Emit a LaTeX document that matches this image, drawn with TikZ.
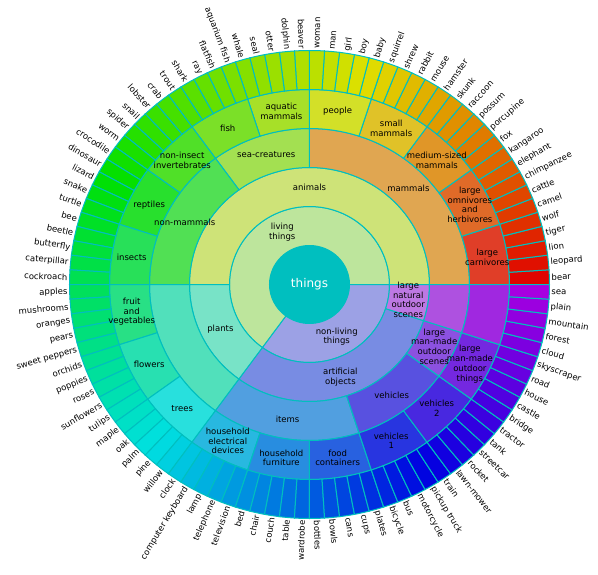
\PassOptionsToPackage{rgb}{xcolor}
\documentclass[tikz,border=0pt]{standalone}
\usepackage{fontspec}
\setmainfont{DejaVu Sans}
\definecolor{edgec}{RGB}{0,191,191}
\newcommand\segfill[4]{%
  \pgfmathsetmacro\segA{(#1-1)*3.6}%
  \pgfmathsetmacro\segB{#2*3.6}%
  \pgfmathsetmacro\segRi{40*(#3-1)}%
  \pgfmathsetmacro\segRo{40*#3}%
  \pgfmathsetmacro\segH{((#1-1)+#2)/2*2.86/360}%
  \ifcase#3\or\or\def\segS{0.32}\def\segV{0.9}\or\def\segS{0.47}\def\segV{0.89}\or\def\segS{0.64}\def\segV{0.88}\or\def\segS{0.82}\def\segV{0.88}\or\def\segS{1}\def\segV{0.88}\fi
  \definecolor{segtmp}{hsb}{\segH,\segS,\segV}%
  \colorlet{segc}[rgb]{segtmp}%
  \filldraw[fill=segc,draw=edgec,line width=1pt] (\segA:\segRi) arc[start angle=\segA,end angle=\segB,radius=\segRi] -- (\segB:\segRo) arc[start angle=\segB,end angle=\segA,radius=\segRo] -- cycle;%
}
\newcommand\seglabel[4]{%
  \pgfmathsetmacro\segM{((#1-1)+#2)/2*3.6}%
  \pgfmathsetmacro\segRm{40*#3-20}%
  \node[lab] (n#1x#2x#3) at (\segM:\segRm) {#4};%
}
\newcommand\allsegs{%
  \seg{1}{65}{2}{living\\things}%
  \seg{66}{100}{2}{non-living\\things}%
  \seg{1}{50}{3}{animals}%
  \seg{51}{65}{3}{plants}%
  \seg{66}{95}{3}{artificial\\objects}%
  \seg{96}{100}{3}{large\\natural\\outdoor\\scenes}%
  \seg{1}{25}{4}{mammals}%
  \seg{26}{35}{4}{sea-creatures}%
  \seg{36}{50}{4}{non-mammals}%
  \seg{51}{65}{4}{}%
  \seg{66}{80}{4}{items}%
  \seg{81}{90}{4}{vehicles}%
  \seg{91}{95}{4}{large\\man-made\\outdoor\\scenes}%
  \seg{96}{100}{4}{}%
  \seg{1}{5}{5}{large\\carnivores}%
  \seg{6}{10}{5}{large\\omnivores\\and\\herbivores}%
  \seg{11}{15}{5}{medium-sized\\mammals}%
  \seg{16}{20}{5}{small\\mammals}%
  \seg{21}{25}{5}{people}%
  \seg{26}{30}{5}{aquatic\\mammals}%
  \seg{31}{35}{5}{fish}%
  \seg{36}{40}{5}{non-insect\\invertebrates}%
  \seg{41}{45}{5}{reptiles}%
  \seg{46}{50}{5}{insects}%
  \seg{51}{55}{5}{fruit\\and\\vegetables}%
  \seg{56}{60}{5}{flowers}%
  \seg{61}{65}{5}{trees}%
  \seg{66}{70}{5}{household\\electrical\\devices}%
  \seg{71}{75}{5}{household\\furniture}%
  \seg{76}{80}{5}{food\\containers}%
  \seg{81}{85}{5}{vehicles\\1}%
  \seg{86}{90}{5}{vehicles\\2}%
  \seg{91}{95}{5}{large\\man-made\\outdoor\\things}%
  \seg{96}{100}{5}{}%
}
\begin{document}
\begin{tikzpicture}[x=1pt,y=1pt,
  lab/.style={font=\fontsize{8.5}{9.7}\selectfont,align=center,inner sep=0pt,text=black},
  leaf/.style={font=\fontsize{8.5}{9.7}\selectfont,inner sep=0pt,text=black}]
\useasboundingbox (-309.5,-289.5) rectangle (288.5,284.5);
\begin{scope}[yscale=0.975]
  \let\seg\segfill
  \allsegs
  \foreach \nm [count=\i] in {bear,leopard,lion,tiger,wolf,camel,cattle,chimpanzee,elephant,kangaroo,fox,porcupine,possum,raccoon,skunk,hamster,mouse,rabbit,shrew,squirrel,baby,boy,girl,man,woman,beaver,dolphin,otter,seal,whale,aquarium fish,flatfish,ray,shark,trout,crab,lobster,snail,spider,worm,crocodile,dinosaur,lizard,snake,turtle,bee,beetle,butterfly,caterpillar,cockroach,apples,mushrooms,oranges,pears,sweet peppers,orchids,poppies,roses,sunflowers,tulips,maple,oak,palm,pine,willow,clock,computer keyboard,lamp,telephone,television,bed,chair,couch,table,wardrobe,bottles,bowls,cans,cups,plates,bicycle,bus,motorcycle,pickup truck,train,lawn-mower,rocket,streetcar,tank,tractor,bridge,castle,house,road,skyscraper,cloud,forest,mountain,plain,sea}{
    \segfill{\i}{\i}{6}{}
    \pgfmathsetmacro\lth{(\i-0.5)*3.6}
    \pgfmathtruncatemacro\lleft{(\lth>90)*(\lth<270)}
    \ifnum\lleft=1
      \pgfmathsetmacro\lrot{atan2(0.975*sin(\lth-180),cos(\lth-180))}
      \node[leaf,anchor=east,rotate=\lrot] (leaf\i) at (\lth:242) {\nm};
    \else
      \pgfmathsetmacro\lrot{atan2(0.975*sin(\lth),cos(\lth))}
      \node[leaf,anchor=west,rotate=\lrot] (leaf\i) at (\lth:242) {\nm};
    \fi
  }
  \fill[edgec] (0,0) circle[radius=40];
  \node[font=\fontsize{12}{14}\selectfont,text=white,inner sep=0pt] (root) at (0,0) {things};
  \let\seg\seglabel
  \allsegs
\end{scope}
\end{tikzpicture}
\end{document}
